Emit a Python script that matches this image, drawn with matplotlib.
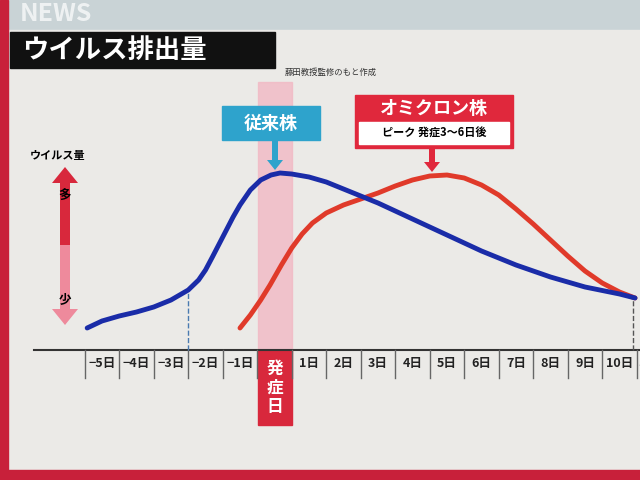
import matplotlib.pyplot as plt
from matplotlib.patches import Rectangle, FancyArrow

plt.rcParams['font.family'] = ['Noto Sans CJK JP', 'DejaVu Sans']

# days relative to onset, virus amount (arbitrary units, 0 = baseline)
blue_days = [-5.43, -5.0, -4.5, -4.0, -3.5, -3.0, -2.5, -2.2, -2.0, -1.8, -1.5, -1.2, -1.0, -0.7,
             -0.4, -0.1, 0.16, 0.5, 1.0, 1.5, 2.0, 3.0, 4.0, 5.0, 6.0, 7.0, 8.0, 9.0, 10.0, 10.45]
blue_vals = [22, 29, 34, 38, 43, 50, 60, 70, 80, 93, 113, 133, 145, 160,
             170, 175, 177, 176, 173, 168, 161, 147, 131, 115, 99, 85, 73, 63, 56, 52]
red_days = [-1.0, -0.7, -0.4, -0.13, 0.2, 0.5, 0.8, 1.1, 1.5, 2.0, 2.5, 3.0, 3.5, 4.0,
            4.5, 5.0, 5.5, 6.0, 6.5, 7.0, 7.5, 8.0, 8.5, 9.0, 9.5, 10.0, 10.45]
red_vals = [22, 35, 50, 65, 85, 102, 116, 127, 137, 145, 151, 157, 164, 170,
            174, 175, 172, 165, 155, 141, 126, 110, 94, 79, 67, 58, 52]
tick_days = list(range(-5, 12))
tick_labels = ['−5日', '−4日', '−3日', '−2日', '−1日', '', '1日', '2日', '3日', '4日',
               '5日', '6日', '7日', '8日', '9日', '10日', '1']

fig = plt.figure(figsize=(6.4, 4.8), dpi=100)
bg = fig.add_axes([0, 0, 1, 1])
bg.set_xlim(0, 640); bg.set_ylim(480, 0); bg.axis('off')
bg.add_patch(Rectangle((0, 0), 640, 480, color='#d8dcdc'))
bg.add_patch(Rectangle((0, 0), 640, 30, color='#c9d3d6'))
bg.add_patch(Rectangle((8, 30), 632, 440, color='#ebeae7'))
bg.add_patch(Rectangle((0, 0), 8, 480, color='#c8203a'))
bg.add_patch(Rectangle((0, 470), 640, 10, color='#c8203a'))
bg.text(20, 14, 'NEWS', fontsize=18, color='white', alpha=0.7, va='center', fontweight='bold')
bg.add_patch(Rectangle((10, 32), 265, 36, color='#111111'))
bg.text(22, 50, 'ウイルス排出量', fontsize=19, color='white', va='center', fontweight='bold')
bg.text(285, 72, '藤田教授監修のもと作成', fontsize=6, color='#333', va='center')

# pink onset band and label
bg.add_patch(Rectangle((258, 82), 34, 268, color='#f2b8c4', alpha=0.8))
bg.add_patch(Rectangle((258, 350), 34, 75, color='#d8283c'))
bg.text(275, 388, '発\n症\n日', fontsize=12, color='white', ha='center', va='center',
        fontweight='bold', linespacing=1.1)

# y indicator arrow
bg.text(30, 155, 'ウイルス量', fontsize=8, fontweight='bold', va='center')
bg.add_patch(FancyArrow(65, 245, 0, -78, width=10, head_width=26, head_length=16,
                        length_includes_head=True, color='#d8283c', lw=0))
bg.add_patch(FancyArrow(65, 245, 0, 80, width=10, head_width=26, head_length=16,
                        length_includes_head=True, color='#ee8a9c', lw=0))
bg.text(65, 196, '多', fontsize=9, ha='center', va='center', fontweight='bold')
bg.text(65, 300, '少', fontsize=9, ha='center', va='center', fontweight='bold')

# labels
bg.add_patch(Rectangle((222, 106), 98, 34, color='#2ea3cc'))
bg.text(271, 123, '従来株', fontsize=13, color='white', ha='center', va='center', fontweight='bold')
bg.add_patch(FancyArrow(275, 140, 0, 30, width=6, head_width=16, head_length=10,
                        length_includes_head=True, color='#2ea3cc', lw=0))
bg.add_patch(Rectangle((355, 95), 158, 53, color='#e0283c'))
bg.add_patch(Rectangle((359, 122), 150, 22, color='white'))
bg.text(434, 108, 'オミクロン株', fontsize=13, color='white', ha='center', va='center', fontweight='bold')
bg.text(434, 133, 'ピーク 発症3～6日後', fontsize=8, color='black', ha='center', va='center', fontweight='bold')
bg.add_patch(FancyArrow(432, 148, 0, 24, width=6, head_width=16, head_length=10,
                        length_includes_head=True, color='#e0283c', lw=0))

ax = fig.add_axes([0, 0, 1, 1])
ax.set_xlim((0 - 274.5) / 34.5, (640 - 274.5) / 34.5)
ax.set_ylim(-130, 350)
ax.axis('off')
ax.patch.set_alpha(0)

# baseline and tick cells
ax.axhline(0, xmin=(34 / 640), color='#333', lw=1.5)
for d, lab in zip(tick_days, tick_labels):
    ax.plot([d - 0.5, d - 0.5], [0, -28], color='#666', lw=1)
    if d == 11:
        ax.text(d - 0.47, -13, lab, fontsize=8, ha='left', va='center', fontweight='bold', color='#222')
    else:
        ax.text(d, -13, lab, fontsize=9, ha='center', va='center', fontweight='bold', color='#222')
ax.plot([-2.5, -2.5], [0, 60], color='#4a7ab0', ls='--', lw=1)
ax.plot([10.4, 10.4], [0, 52], color='#555', ls='--', lw=1)

ax.plot(red_days, red_vals, color='#e03a2a', lw=3.5, solid_capstyle='round', solid_joinstyle='round')
ax.plot(blue_days, blue_vals, color='#1a2ca8', lw=3.5, solid_capstyle='round', solid_joinstyle='round')

fig.savefig('out.png', dpi=100)
